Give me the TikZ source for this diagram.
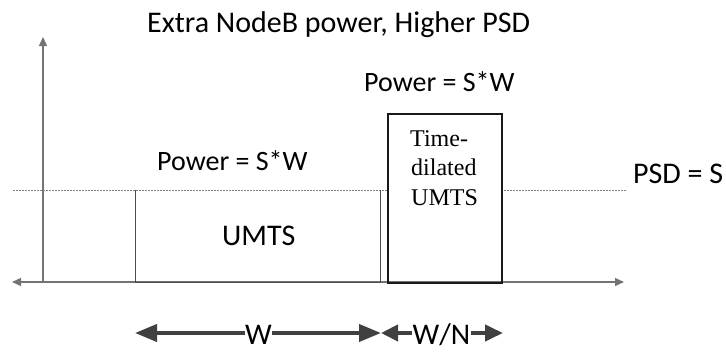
\documentclass[tikz,border=0pt]{standalone}
\usepackage{fontspec}
\setmainfont{Carlito}
\newfontfamily\tnr{Liberation Serif}
\usetikzlibrary{arrows.meta}
\begin{document}
\begin{tikzpicture}[x=1pt,y=-1pt,
  axis/.style={draw=black!55,line width=1.4pt,-{Triangle[length=9pt,width=8pt]}},
  big/.style={font=\fontsize{30}{32}\selectfont,inner sep=0pt},
  pw/.style={font=\fontsize{28}{30}\selectfont,inner sep=0pt},
  serif/.style={font=\tnr\fontsize{24}{29.5}\selectfont,inner sep=0pt,anchor=base west},
  psd/.style={draw=black!50,line width=0.6pt,dash pattern=on 2pt off 1pt},
  span/.style={draw=black!75,line width=4pt},
  spanlbl/.style={font=\fontsize{30}{32}\selectfont,fill=white,inner xsep=0.5pt,inner ysep=0pt,text depth=0pt}]
\useasboundingbox (0,0) rectangle (726,351);
% axes
\coordinate (o) at (43,282);
\coordinate (ytop) at (43,37);
\coordinate (xl) at (12,282);
\coordinate (xr) at (624,282);
\draw[axis] (o) -- (ytop);
\draw[axis,{Triangle[length=9pt,width=8pt]}-{Triangle[length=9pt,width=8pt]}] (xl) -- (xr);
% PSD dashed level
\coordinate (pl) at (13,190);
\coordinate (pm) at (387,190);
\coordinate (pr1) at (501,190);
\coordinate (pr2) at (626,190);
\draw[psd] (pl) -- (pm);
\draw[psd] (pr1) -- (pr2);
% UMTS box
\node[inner sep=0pt,minimum width=245pt,minimum height=92pt,anchor=north west] (umts) at (135,190) {};
\node[big,anchor=base west] (umtstxt) at (222,245) {UMTS};
\draw[draw=black!70,line width=0.7pt] (umts.north west) -- (umts.south west) -- (umts.south east) -- (umts.north east);
% time-dilated box
\node[draw=black!90,line width=2pt,minimum width=114pt,minimum height=169pt,anchor=north west,inner sep=0pt] (td) at (387,113) {};
\node[serif] (td1) at (410,146) {Time-};
\node[serif] (td2) at (411,175) {dilated};
\node[serif] (td3) at (411,205) {UMTS};
% labels
\node[big,anchor=base west] (title) at (147,32) {Extra NodeB power, Higher PSD};
\node[pw,anchor=base west] (p1) at (157,170) {Power = S*W};
\node[pw,anchor=base west] (p2) at (364,91) {Power = S*W};
\node[big,anchor=base west] (psdl) at (633,183) {PSD = S};
% bandwidth spans
\coordinate (w0) at (135,333);
\coordinate (w1) at (381,333);
\coordinate (w2) at (503,333);
\draw[span,{Triangle[length=22pt,width=17pt]}-{Triangle[length=22pt,width=17pt]}] (w0) -- (w1);
\draw[span,{Triangle[length=17pt,width=16pt]}-{Triangle[length=18pt,width=16pt]}] (w1) -- (w2);
\node[spanlbl,anchor=base] (wl) at (258.5,344) {W};
\node[spanlbl,anchor=base] (wnl) at (441.5,344) {W/N};
\end{tikzpicture}
\end{document}
